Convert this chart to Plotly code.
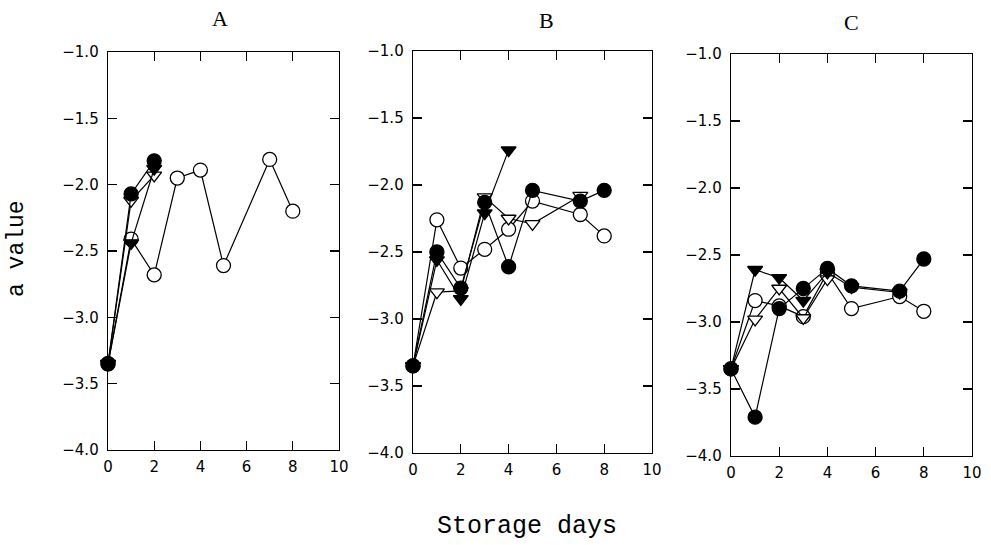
import plotly.graph_objects as go

# ---- data ----
panels = ["A", "B", "C"]

# Panel A
A_oc_x = [0, 1, 2, 3, 4, 5, 7, 8]
A_oc_y = [-3.35, -2.41, -2.68, -1.95, -1.89, -2.61, -1.81, -2.20]
A_fc_x = [0, 1, 2]
A_fc_y = [-3.35, -2.07, -1.82]
A_ot_x = [0, 1, 2]
A_ot_y = [-3.35, -2.12, -1.93]
A_ft_x = [0, 1, 2]
A_ft_y = [-3.35, -2.44, -1.88]

# Panel B
B_oc_x = [0, 1, 2, 3, 4, 5, 7, 8]
B_oc_y = [-3.35, -2.26, -2.62, -2.48, -2.33, -2.12, -2.22, -2.38]
B_fc_x = [0, 1, 2, 3, 4, 5, 7, 8]
B_fc_y = [-3.35, -2.50, -2.77, -2.13, -2.61, -2.04, -2.12, -2.04]
B_ot_x = [0, 1, 2, 3, 4, 5, 7]
B_ot_y = [-3.35, -2.80, -2.79, -2.09, -2.25, -2.29, -2.08]
B_ft_x = [0, 1, 2, 3, 4]
B_ft_y = [-3.35, -2.56, -2.85, -2.21, -1.74]

# Panel C
C_oc_x = [0, 1, 2, 3, 4, 5, 7, 8]
C_oc_y = [-3.35, -2.84, -2.88, -2.96, -2.63, -2.90, -2.81, -2.92]
C_fc_x = [0, 1, 2, 3, 4, 5, 7, 8]
C_fc_y = [-3.35, -3.71, -2.90, -2.75, -2.60, -2.73, -2.77, -2.53]
C_ot_x = [0, 1, 2, 3, 4]
C_ot_y = [-3.35, -2.98, -2.75, -2.97, -2.68]
C_ft_x = [0, 1, 2, 3, 4, 5, 7]
C_ft_y = [-3.35, -2.61, -2.67, -2.84, -2.63, -2.74, -2.78]

y_ticks = [-4.0, -3.5, -3.0, -2.5, -2.0, -1.5, -1.0]
x_ticks = [0, 2, 4, 6, 8, 10]

series = {
    "A": [(A_oc_x, A_oc_y, "oc"), (A_ot_x, A_ot_y, "ot"), (A_ft_x, A_ft_y, "ft"), (A_fc_x, A_fc_y, "fc")],
    "B": [(B_oc_x, B_oc_y, "oc"), (B_ot_x, B_ot_y, "ot"), (B_ft_x, B_ft_y, "ft"), (B_fc_x, B_fc_y, "fc")],
    "C": [(C_oc_x, C_oc_y, "oc"), (C_ot_x, C_ot_y, "ot"), (C_ft_x, C_ft_y, "ft"), (C_fc_x, C_fc_y, "fc")],
}

styles = {
    "oc": dict(symbol="circle", color="white", size=14),
    "fc": dict(symbol="circle", color="black", size=14),
    "ot": dict(symbol="triangle-down", color="white", size=13),
    "ft": dict(symbol="triangle-down", color="black", size=13),
}

W, H = 991, 545
boxes = {  # left, right, top, bottom in window px
    "A": (108, 339, 52, 450),
    "B": (413, 652, 51, 453),
    "C": (731, 972, 54, 456),
}
title_pos = {"A": (220, 18), "B": (546, 20), "C": (851, 22)}


def px(x):
    return x / W


def py(y):
    return 1 - y / H


fig = go.Figure()
layout = dict(
    template="none",
    width=W, height=H, margin=dict(l=0, r=0, t=0, b=0, autoexpand=False),
    paper_bgcolor="white", plot_bgcolor="white", showlegend=False,
    font=dict(family="DejaVu Sans", size=15, color="black"),
)
annotations = []
for i, p in enumerate(panels):
    n = "" if i == 0 else str(i + 1)
    l, r, t, b = boxes[p]
    for xs, ys, kind in series[p]:
        st = styles[kind]
        fig.add_trace(go.Scatter(
            x=xs, y=ys, mode="lines+markers",
            line=dict(color="black", width=1.2),
            marker=dict(symbol=st["symbol"], size=st["size"], color=st["color"],
                        line=dict(color="black", width=1.3)),
            xaxis="x" + n, yaxis="y" + n, cliponaxis=False,
        ))
    common = dict(showgrid=False, zeroline=False, showline=True, linecolor="black",
                  linewidth=1.3, mirror="ticks", ticks="inside", ticklen=9,
                  tickcolor="black", tickwidth=1.2, automargin=False,
                  tickfont=dict(family="DejaVu Sans", size=15, color="black"))
    layout["xaxis" + n] = dict(common, domain=[px(l), px(r)], range=[0, 10],
                               tickvals=x_ticks, ticktext=[str(v) for v in x_ticks],
                               anchor="y" + n, ticklabelstandoff=3)
    layout["yaxis" + n] = dict(common, domain=[py(b), py(t)], range=[-4, -1],
                               tickvals=y_ticks, ticktext=["\u2212%.1f" % abs(v) for v in y_ticks],
                               anchor="x" + n, ticklabelstandoff=5)
    tx, ty = title_pos[p]
    annotations.append(dict(text=p, x=px(tx), y=py(ty), xref="paper", yref="paper",
                            xanchor="center", yanchor="middle",
                            showarrow=False, font=dict(family="Liberation Serif", size=22)))

annotations.append(dict(text="a value", x=px(17), y=py(249), xref="paper", yref="paper",
                        xanchor="center", yanchor="middle",
                        showarrow=False, textangle=-90,
                        font=dict(family="Liberation Mono", size=23)))
annotations.append(dict(text="Storage days", x=px(527), y=py(526), xref="paper", yref="paper",
                        xanchor="center", yanchor="middle",
                        showarrow=False, font=dict(family="Liberation Mono", size=25)))
layout["annotations"] = annotations
fig.update_layout(**layout)
fig.write_html("out.html",
               config={"displayModeBar": False, "staticPlot": True},
               post_script="document.body.style.margin='0';document.body.style.overflow='hidden';")
